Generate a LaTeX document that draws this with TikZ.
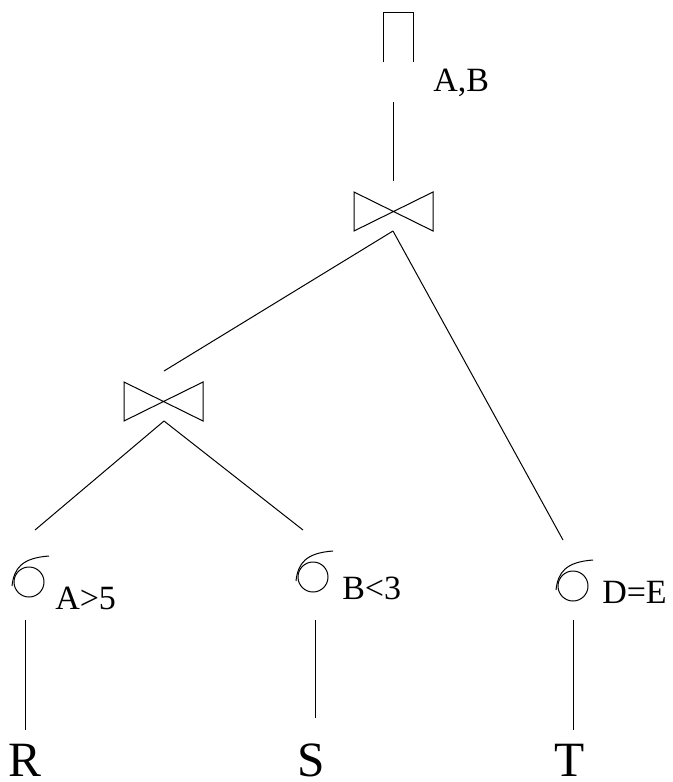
\documentclass[tikz,border=0pt]{standalone}
\usepackage{fontspec}
\setmainfont{Liberation Serif}
\begin{document}
\begin{tikzpicture}[x=0.75pt,y=-0.75pt,
  ln/.style={line width=0.75pt,black},
  lbl/.style={inner sep=0pt,anchor=base west,font=\fontsize{25.5}{30}\selectfont},
  rel/.style={inner sep=0pt,anchor=base west,font=\fontsize{37}{44}\selectfont},
  sigmasym/.pic={
    \draw[ln] (0,0) circle[radius=15];
    \draw[ln] (-17,4) .. controls (-15,-14) and (-7,-24) .. (20,-26);
  }]
\useasboundingbox (0,0) rectangle (673,782);
% projection
\draw[ln] (383,62) -- (383,12) -- (413,12) -- (413,62);
\node[lbl] (pilbl) at (433,91) {A,B};
\coordinate (pibot) at (393,102);
% join 1
\draw[ln] (354,192) -- (354,231) -- (433,192) -- (433,231) -- cycle;
\coordinate (j1top) at (393,181);
\coordinate (j1bot) at (393,231);
% join 2
\draw[ln] (124,382) -- (124,421) -- (203,382) -- (203,421) -- cycle;
\coordinate (j2top) at (164,371);
\coordinate (j2bot) at (164,421);
% selections
\pic at (29,582) {sigmasym};
\pic at (313,577) {sigmasym};
\pic at (573,586) {sigmasym};
\node[lbl] (la) at (55,609) {A>5};
\node[lbl] (lb) at (342,599) {B<3};
\node[lbl] (ld) at (602,603) {D=E};
\coordinate (sAtop) at (35,530);
\coordinate (sBtop) at (303,530);
\coordinate (sDtop) at (563,540);
\coordinate (sAbot) at (25,620);
\coordinate (sBbot) at (315,620);
\coordinate (sDbot) at (573,620);
% relations
\node[rel] (R) at (8,776) {R};
\node[rel] (S) at (297,776) {S};
\node[rel] (T) at (554,776) {T};
\coordinate (Rtop) at (25,730);
\coordinate (Stop) at (315,718);
\coordinate (Ttop) at (573,730);
% connectors
\draw[ln] (pibot) -- (j1top);
\draw[ln] (j1bot) -- (j2top);
\draw[ln] (j1bot) -- (sDtop);
\draw[ln] (j2bot) -- (sAtop);
\draw[ln] (j2bot) -- (sBtop);
\draw[ln] (sAbot) -- (Rtop);
\draw[ln] (sBbot) -- (Stop);
\draw[ln] (sDbot) -- (Ttop);
\end{tikzpicture}
\end{document}
